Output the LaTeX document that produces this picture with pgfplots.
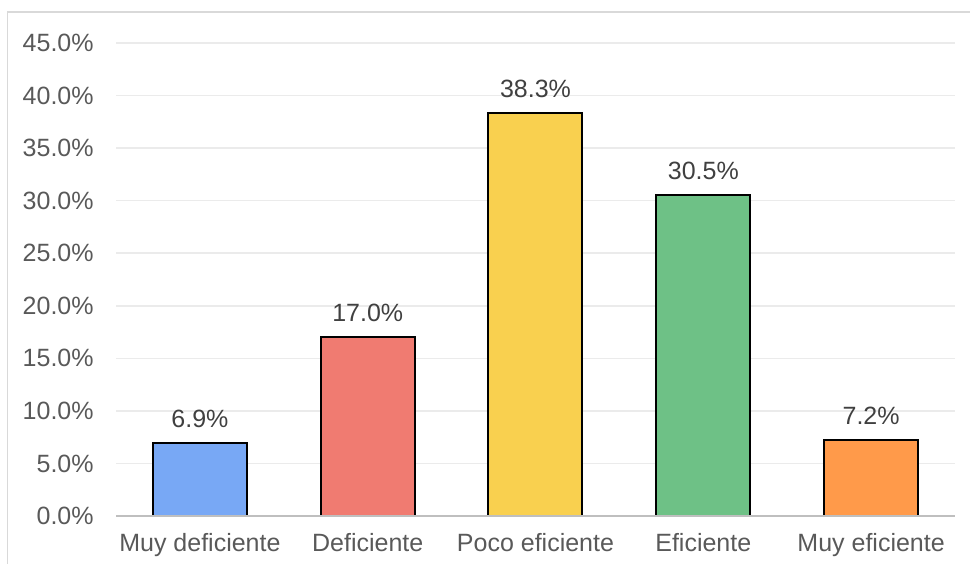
\documentclass[border=0pt]{standalone}
\usepackage{fontspec}
\setmainfont{Liberation Sans}
\usepackage{pgfplots}
\pgfplotsset{compat=1.18}

\definecolor{gridgray}{HTML}{EBEBEB}
\definecolor{axisgray}{HTML}{BFBFBF}
\definecolor{framegray}{HTML}{D9D9D9}
\definecolor{ticktext}{HTML}{595959}
\definecolor{labeltext}{HTML}{404040}
\definecolor{cblue}{HTML}{78A8F5}
\definecolor{cred}{HTML}{F07B71}
\definecolor{cyellow}{HTML}{F9D04F}
\definecolor{cgreen}{HTML}{6EC186}
\definecolor{corange}{HTML}{FF9A4A}

\newcommand{\chartfont}{\fontsize{12.5}{15}\selectfont}

\begin{document}
\begin{tikzpicture}
  % page area and outer chart frame
  \useasboundingbox (0,0) rectangle (485pt,281.5pt);
  \draw[framegray, line width=0.75pt] (3.75pt,-20pt) -- (3.75pt,275.4pt) -- (520pt,275.4pt);

  \begin{axis}[
    at={(58pt,23.5pt)}, anchor=south west,
    scale only axis,
    width=419.5pt, height=236.5pt,
    xmin=-0.5, xmax=4.5,
    ymin=0, ymax=45,
    ytick={0,5,...,45},
    xtick={0,1,2,3,4},
    xticklabels={Muy deficiente, Deficiente, Poco eficiente, Eficiente, Muy eficiente},
    /pgf/number format/assume math mode=true,
    yticklabel={\pgfmathprintnumber[fixed,fixed zerofill,precision=1]{\tick}\%},
    ymajorgrids,
    major grid style={gridgray, line width=0.75pt},
    axis line style={draw=none},
    axis x line*=bottom,
    axis y line*=left,
    major tick length=0pt,
    tick style={draw=none},
    ticklabel style={font=\chartfont, text=ticktext},
    xticklabel style={anchor=base, yshift=-17.8pt},
    yticklabel style={anchor=east, inner sep=0pt, xshift=-11pt},
    ybar, bar width=47pt, bar shift=0pt,
    nodes near coords={\pgfmathprintnumber[fixed,fixed zerofill,precision=1]{\pgfplotspointmeta}\%},
    every node near coord/.append style={font=\chartfont, text=labeltext, anchor=center, yshift=12.4pt},
    clip=false,
  ]
    \addplot[fill=cblue, draw=black, line width=1pt] coordinates {(0,6.9)};
    \addplot[fill=cred, draw=black, line width=1pt] coordinates {(1,17.0)};
    \addplot[fill=cyellow, draw=black, line width=1pt] coordinates {(2,38.3)};
    \addplot[fill=cgreen, draw=black, line width=1pt] coordinates {(3,30.5)};
    \addplot[fill=corange, draw=black, line width=1pt] coordinates {(4,7.2)};
    % baseline of the value axis
    \draw[axisgray, line width=1.1pt] (axis cs:-0.5,0) -- (axis cs:4.5,0);
  \end{axis}
\end{tikzpicture}
\end{document}
